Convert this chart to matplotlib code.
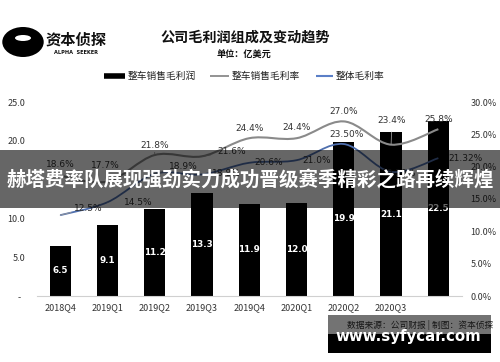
import numpy as np
import matplotlib
matplotlib.use('Agg')
import matplotlib.pyplot as plt
from matplotlib.path import Path
from matplotlib.patches import PathPatch, Rectangle, Circle, Ellipse

plt.rcParams['font.family'] = ['Noto Sans CJK SC', 'DejaVu Sans']

# data
quarters = ['2018Q4', '2019Q1', '2019Q2', '2019Q3', '2019Q4',
            '2020Q1', '2020Q2', '2020Q3', '']
gross_profit = [6.5, 9.1, 11.2, 13.3, 11.9, 12.0, 19.9, 21.1, 22.5]
car_margin = [18.6, 17.7, 21.8, 21.6, 24.4, 24.4, 27.0, 23.4, 25.8]
car_margin_labels = ['18.6%', '17.7%', '21.8%', '21.6%', '24.4%',
                     '24.4%', '27.0%', '23.4%', '25.8%']
total_margin = [12.5, 14.5, 18.9, 18.8, 20.6, 21.0, 23.5, 19.2, 21.32]
total_margin_labels = ['12.5%', '14.5%', '18.9%', '18.8%', '20.6%',
                       '21.0%', '23.50%', '19.20%', '21.32%']

W, H = 500, 362


def fx(x):
    return x / W


def fy(y):
    return 1 - y / H


def smooth_path(xs, ys):
    # Catmull-Rom style bezier through the data points (like Excel smoothing)
    pts = np.column_stack([xs, ys]).astype(float)
    verts = [pts[0]]
    codes = [Path.MOVETO]
    n = len(pts)
    for i in range(n - 1):
        p0 = pts[i - 1] if i > 0 else pts[i]
        p1 = pts[i]
        p2 = pts[i + 1]
        p3 = pts[i + 2] if i + 2 < n else pts[i + 1]
        c1 = p1 + (p2 - p0) / 6
        c2 = p2 - (p3 - p1) / 6
        verts += [c1, c2, p2]
        codes += [Path.CURVE4] * 3
    return Path(verts, codes)


fig = plt.figure(figsize=(5, 3.62), dpi=100)
ax = fig.add_axes([fx(36.5), fy(296), fx(462) - fx(36.5), fy(102) - fy(296)])
x = np.arange(len(quarters))

ax.bar(x, gross_profit, width=0.45, color='black', zorder=2)
for xi, v in zip(x, gross_profit):
    ax.text(xi, v / 2, f'{v:.1f}', ha='center', va='center', color='white',
            fontsize=6.3, fontweight='bold', family='DejaVu Sans', zorder=3)

ax.set_xlim(-0.5, len(quarters) - 0.5)
ax.set_ylim(0, 25)
ax.set_yticks([0, 5, 10, 15, 20, 25])
ax.set_yticklabels(['-  ', '5.0', '10.0', '15.0', '20.0', '25.0'])
ax.set_xticks(x)
ax.set_xticklabels(quarters)
ax.tick_params(length=0, labelsize=6.5, colors='#333333', pad=5)
ax.tick_params(axis='y', pad=8)
for s in ['top', 'right', 'left']:
    ax.spines[s].set_visible(False)
ax.spines['bottom'].set_color('#d0d0d0')

ax2 = ax.twinx()
ax2.set_ylim(0, 30)
ax2.set_yticks([0, 5, 10, 15, 20, 25, 30])
ax2.set_yticklabels([f'{t:.1f}%' for t in range(0, 31, 5)])
ax2.tick_params(length=0, labelsize=6.5, colors='#333333', pad=6)
for s in ax2.spines.values():
    s.set_visible(False)

ax2.add_patch(PathPatch(smooth_path(x, car_margin), fill=False,
                        edgecolor='#8a8a8a', lw=1.5, zorder=4))
ax2.add_patch(PathPatch(smooth_path(x, total_margin), fill=False,
                        edgecolor='#4f6fae', lw=1.3, zorder=4))

# label offsets in pixels (dx, dy up), and whether a leader line is drawn
car_off = [(0, 11, False), (-2, 16, True), (0, 10, True), (30, 5, True),
           (0, 10, False), (0, 11, False), (0, 10, False), (1, 24, True),
           (0, 10, False)]
tot_off = [(28, 7, True), (31, 0, True), (29, 7, True), (24, 1, False),
           (19, 0, False), (20, 0, False), (3, 10, False), (8, -2, False),
           (27, 0, False)]
for xi, v, lab, (dx, dy, lead) in zip(x, car_margin, car_margin_labels, car_off):
    ax2.annotate(lab, (xi, v), xytext=(dx * 0.72, dy * 0.72),
                 textcoords='offset points', ha='center', va='center',
                 fontsize=6.5, color='#333333', family='DejaVu Sans', zorder=5,
                 arrowprops=dict(arrowstyle='-', color='#999999', lw=0.6,
                                 shrinkA=3, shrinkB=0) if lead else None)
for xi, v, lab, (dx, dy, lead) in zip(x, total_margin, total_margin_labels, tot_off):
    ax2.annotate(lab, (xi, v), xytext=(dx * 0.72, dy * 0.72),
                 textcoords='offset points', ha='center', va='center',
                 fontsize=6.5, color='#333333', family='DejaVu Sans', zorder=5,
                 arrowprops=dict(arrowstyle='-', color='#999999', lw=0.6,
                                 shrinkA=10, shrinkB=0) if lead else None)

# logo
fig.add_artist(Circle((fx(23), fy(42)), 15 / H, transform=fig.transFigure,
                      facecolor='black', edgecolor='none'))
fig.add_artist(Ellipse((fx(23), fy(38)), 16 / W, 6 / H, transform=fig.transFigure,
                       facecolor='white', edgecolor='none'))
fig.text(fx(76), fy(40), '资本侦探', ha='center', va='center', fontsize=11,
         fontweight='bold', color='#111111')
fig.text(fx(76), fy(52.5), 'ALPHA  SEEKER', ha='center', va='center', fontsize=3.6,
         fontweight='bold', color='#111111', family='DejaVu Sans')

# title
fig.text(fx(245), fy(38), '公司毛利润组成及变动趋势', ha='center', va='center',
         fontsize=10.2, fontweight='bold', color='#111111')
fig.text(fx(244), fy(55), '单位：亿美元', ha='center', va='center',
         fontsize=6.6, fontweight='bold', color='#111111')

# legend
leg = [((104, 125), 4, 'black', '整车销售毛利润', 128),
       ((210, 229), 1.3, '#8a8a8a', '整车销售毛利率', 232),
       ((316, 333), 1.5, '#5b7fc7', '整体毛利率', 336)]
for (x0, x1), lw, c, lab, tx in leg:
    fig.add_artist(plt.Line2D([fx(x0), fx(x1)], [fy(76), fy(76)], lw=lw, color=c,
                              solid_capstyle='butt', transform=fig.transFigure))
    fig.text(fx(tx), fy(76), lab, ha='left', va='center', fontsize=7,
             color='#222222')

# source
fig.text(fx(493), fy(325), '数据来源：公司财报 | 制图：资本侦探', ha='right',
         va='center', fontsize=6.3, color='#333333')

# overlay banner
fig.add_artist(Rectangle((0, fy(208)), 1, fy(150) - fy(208), transform=fig.transFigure,
                         facecolor='black', alpha=0.6, edgecolor='none', zorder=10))
fig.text(fx(250), fy(180), '赫塔费率队展现强劲实力成功晋级赛季精彩之路再续辉煌',
         ha='center', va='center', fontsize=14.0, fontweight='bold', color='white',
         zorder=11)

# watermark box
fig.add_artist(Rectangle((fx(328), fy(353)), fx(491) - fx(328), fy(315) - fy(353),
                         transform=fig.transFigure, facecolor='black', alpha=0.55,
                         edgecolor='none', zorder=10))
fig.add_artist(Rectangle((fx(328), fy(353)), fx(491) - fx(328), fy(334) - fy(353),
                         transform=fig.transFigure, facecolor='black',
                         edgecolor='none', zorder=10))
fig.text(fx(408), fy(337), 'www.syfycar.com', ha='center', va='center',
         fontsize=10.8, fontweight='bold', color='white', family='DejaVu Sans',
         zorder=11)

fig.savefig('out.png', dpi=100)
